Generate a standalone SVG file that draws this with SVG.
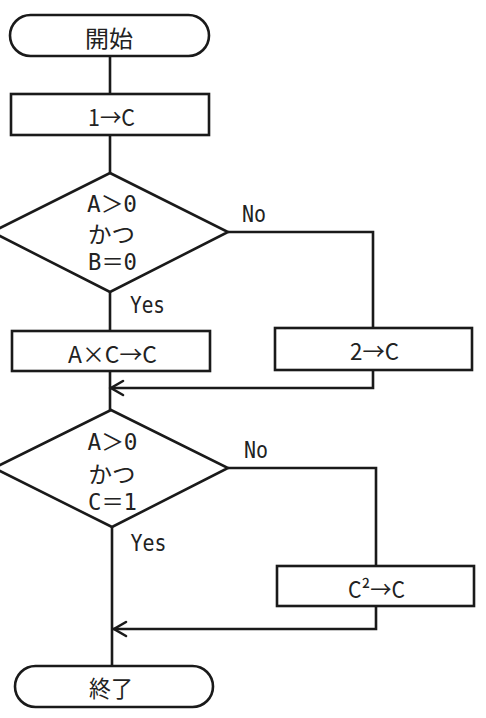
<svg xmlns="http://www.w3.org/2000/svg" width="486" height="718" viewBox="0 0 486 718">
<defs>
<style>
.s{fill:#fff;stroke:#1a1a1a;stroke-width:2.6}
.l{fill:none;stroke:#1a1a1a;stroke-width:2.6}
.a{fill:none;stroke:#1a1a1a;stroke-width:2.6;stroke-linecap:round}
text{font-family:'DejaVu Sans Mono','Noto Sans CJK JP',monospace;font-size:23px;fill:#222;text-anchor:middle;dominant-baseline:central}
.j{font-family:'Noto Sans CJK JP',sans-serif}
</style>
</defs>
<rect width="486" height="718" fill="#fff"/>
<g id="connectors">
<path class="l" d="M110,56 V94"/>
<path class="l" d="M110,135 V173"/>
<path class="l" d="M110,292 V331"/>
<path class="l" d="M228,232 H373 V328"/>
<path class="l" d="M373,370 V388 H110"/>
<path class="a" d="M123,381 L111,388 L123,395"/>
<path class="l" d="M110,371 V410"/>
<path class="l" d="M228,468 H376 V566"/>
<path class="l" d="M376,606 V629 H113"/>
<path class="a" d="M126,622 L114,629 L126,636"/>
<path class="l" d="M112,527 V666"/>
<text x="147.5" y="305" textLength="35" lengthAdjust="spacingAndGlyphs">Yes</text>
<text x="254" y="214" textLength="24" lengthAdjust="spacingAndGlyphs">No</text>
<text x="148.5" y="543" textLength="36" lengthAdjust="spacingAndGlyphs">Yes</text>
<text x="256" y="450" textLength="24" lengthAdjust="spacingAndGlyphs">No</text>
</g>
<g id="start">
<rect class="s" x="10" y="15" width="199" height="41" rx="20.5"/>
<text class="j" x="109" y="37" textLength="48" lengthAdjust="spacingAndGlyphs">開始</text>
</g>
<g id="init">
<rect class="s" x="11" y="94" width="198" height="41"/>
<text class="j" x="111.5" y="116" textLength="47" lengthAdjust="spacingAndGlyphs">1→C</text>
</g>
<g id="cond1">
<polygon class="s" points="110,173 228,232 110,292 -8,232"/>
<text x="112" y="204" textLength="50" lengthAdjust="spacingAndGlyphs">A＞0</text>
<text class="j" x="111.5" y="233" textLength="47" lengthAdjust="spacingAndGlyphs">かつ</text>
<text x="112.5" y="262" textLength="49" lengthAdjust="spacingAndGlyphs">B＝0</text>
</g>
<g id="mul">
<rect class="s" x="12" y="331" width="198" height="40"/>
<text class="j" x="112.5" y="353" textLength="89" lengthAdjust="spacingAndGlyphs">A×C→C</text>
</g>
<g id="set2">
<rect class="s" x="275" y="328" width="197" height="42"/>
<text class="j" x="374.5" y="350" textLength="49" lengthAdjust="spacingAndGlyphs">2→C</text>
</g>
<g id="cond2">
<polygon class="s" points="111,410 228,468 112,527 -6,468"/>
<text x="112.5" y="442" textLength="50" lengthAdjust="spacingAndGlyphs">A＞0</text>
<text class="j" x="112" y="473" textLength="47" lengthAdjust="spacingAndGlyphs">かつ</text>
<text x="112.5" y="502" textLength="49" lengthAdjust="spacingAndGlyphs">C＝1</text>
</g>
<g id="square">
<rect class="s" x="277" y="566" width="197" height="40"/>
<text class="j" x="376.5" y="588" textLength="57" lengthAdjust="spacingAndGlyphs">C²→C</text>
</g>
<g id="end">
<rect class="s" x="15" y="666" width="198" height="41" rx="20.5"/>
<text class="j" x="111" y="687" textLength="44" lengthAdjust="spacingAndGlyphs">終了</text>
</g>
</svg>
